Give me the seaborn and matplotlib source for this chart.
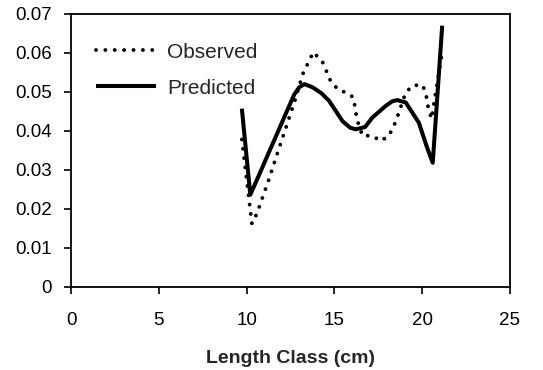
import matplotlib
matplotlib.use("Agg")
import matplotlib.pyplot as plt
import seaborn as sns
import pandas as pd

# Data
x_obs = [9.73, 10.2, 10.3, 10.58, 11.25, 11.75, 12.25, 12.75, 13.2, 13.8, 14.33, 14.8,
         15.24, 15.75, 16.07, 16.18, 16.28, 16.6, 17.13, 17.64, 18.11, 18.4, 18.64,
         19.06, 19.47, 20.04, 20.23, 20.34, 20.53, 21.13]
y_obs = [0.0378, 0.0200, 0.0162, 0.0187, 0.0273, 0.0342, 0.0410, 0.0478, 0.0546, 0.0602,
         0.0576, 0.0526, 0.0505, 0.0497, 0.0486, 0.0460, 0.0430, 0.0387, 0.0388, 0.0374,
         0.0388, 0.0414, 0.0443, 0.0498, 0.0517, 0.0517, 0.0490, 0.0461, 0.0431, 0.0600]

x_pred = [9.73, 10.21, 10.75, 11.25, 11.75, 12.25, 12.72, 13.0, 13.29, 13.75, 14.25, 14.7,
          15.46, 15.9, 16.22, 16.75, 17.16, 17.92, 18.3, 18.58, 19.06, 19.81, 20.28,
          20.6, 21.14]
y_pred = [0.0457, 0.0236, 0.0291, 0.0343, 0.0394, 0.0446, 0.0494, 0.0512, 0.0520, 0.0512,
          0.0497, 0.0477, 0.0425, 0.0408, 0.0404, 0.0410, 0.0434, 0.0464, 0.0476, 0.0479,
          0.0473, 0.0421, 0.0357, 0.0318, 0.0670]

x_ticks = [0, 5, 10, 15, 20, 25]
y_ticks = [0, 0.01, 0.02, 0.03, 0.04, 0.05, 0.06, 0.07]
y_tick_labels = ["0", "0.01", "0.02", "0.03", "0.04", "0.05", "0.06", "0.07"]

sns.set_style("white")
plt.rcParams["font.family"] = ["Liberation Sans", "DejaVu Sans"]

fig = plt.figure(figsize=(5.43, 3.70), dpi=100)
ax = fig.add_axes([0.1308, 0.2251, 0.8084, 0.7371])

df_obs = pd.DataFrame({"x": x_obs, "y": y_obs})
df_pred = pd.DataFrame({"x": x_pred, "y": y_pred})

sns.lineplot(data=df_obs, x="x", y="y", ax=ax, color="black", lw=2.8,
             linestyle=(0, (0.01, 2.4)), dash_capstyle="round", label="Observed",
             sort=False)
sns.lineplot(data=df_pred, x="x", y="y", ax=ax, color="black", lw=2.9,
             linestyle="-", solid_capstyle="butt", solid_joinstyle="round",
             label="Predicted", sort=False)

ax.set_xlim(0, 25)
ax.set_ylim(0, 0.07)
ax.set_xticks(x_ticks)
ax.set_xticklabels([str(t) for t in x_ticks])
ax.set_yticks(y_ticks)
ax.set_yticklabels(y_tick_labels)
ax.tick_params(axis="both", direction="out", length=5, width=1.2, color="black",
               labelsize=13.5, labelcolor="black", bottom=True, left=True)
ax.tick_params(axis="x", pad=13)
ax.tick_params(axis="y", pad=9)
for s in ax.spines.values():
    s.set_visible(True)
    s.set_color("black")
    s.set_linewidth(1.3)

ax.set_ylabel("")
ax.set_xlabel("Length Class (cm)", fontsize=14, fontweight="bold", labelpad=15)

leg = ax.legend(loc="upper left", frameon=False, fontsize=15, handlelength=2.9,
                handletextpad=0.5, labelspacing=0.82, borderaxespad=0.0, borderpad=0.0,
                bbox_to_anchor=(0.057, 0.895))

fig.savefig("out.png", dpi=100)
